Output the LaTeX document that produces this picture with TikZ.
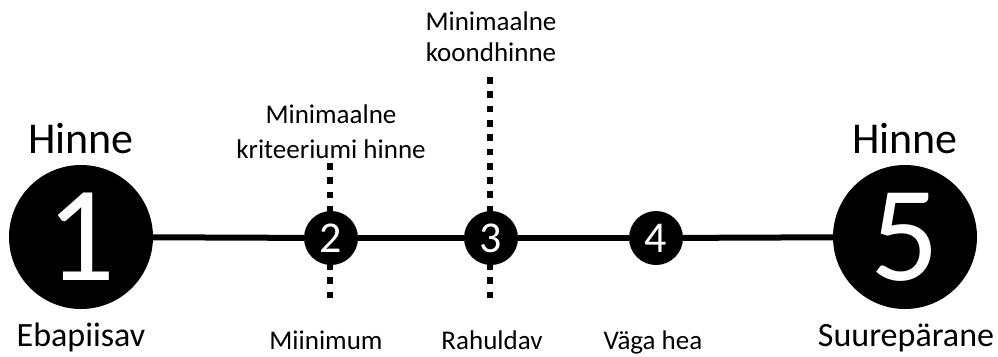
\documentclass[tikz,border=0pt]{standalone}
\usepackage{fontspec}
\setmainfont{Carlito}
\begin{document}
\begin{tikzpicture}[x=1pt,y=-1pt,
  bigdot/.style={circle,fill=black,minimum size=144pt,inner sep=0pt,text=white,font=\fontsize{136}{136}\selectfont},
  smalldot/.style={circle,fill=black,minimum size=54pt,inner sep=0pt,text=white,font=\fontsize{44}{44}\selectfont},
  axisline/.style={line width=6pt},
  marker/.style={line width=6.5pt,dash pattern=on 6.7pt off 7.6pt},
  biglabel/.style={font=\fontsize{44}{44}\selectfont,anchor=base,inner sep=0pt},
  midlabel/.style={font=\fontsize{34}{34}\selectfont,anchor=base,inner sep=0pt},
  smalllabel/.style={font=\fontsize{27}{27}\selectfont,anchor=base,inner sep=0pt}]
\useasboundingbox (0,0) rectangle (998,356);
% dotted markers
\coordinate (m2t) at (330,163);
\coordinate (m2b) at (330,302);
\coordinate (m3t) at (490,77);
\coordinate (m3b) at (490,302);
\draw[marker] (m2t) -- (m2b);
\draw[marker] (m3t) -- (m3b);
% dots
\node[bigdot] (c1) at (81,237) {1};
\node[smalldot] (c2) at (331,238) {2};
\node[smalldot] (c3) at (491,238) {3};
\node[smalldot] (c4) at (656,238) {4};
\node[bigdot] (c5) at (905,237) {5};
\draw[axisline] (c1) -- (c2);
\draw[axisline] (c2) -- (c3);
\draw[axisline] (c3) -- (c4);
\draw[axisline] (c4) -- (c5);
% labels
\node[biglabel] (h1) at (81,153) {Hinne};
\node[biglabel] (h5) at (905,153) {Hinne};
\node[midlabel] (l1) at (81,346) {Ebapiisav};
\node[midlabel] (l5) at (906,346) {Suurepärane};
\node[smalllabel] (l2) at (326,349) {Miinimum};
\node[smalllabel] (l3) at (492,349) {Rahuldav};
\node[smalllabel] (l4) at (653,349) {Väga hea};
\node[smalllabel] (k1) at (331,123) {Minimaalne};
\node[smalllabel] (k2) at (331,158) {kriteeriumi hinne};
\node[smalllabel] (t1) at (491,30) {Minimaalne};
\node[smalllabel] (t2) at (491,61) {koondhinne};
\end{tikzpicture}
\end{document}
